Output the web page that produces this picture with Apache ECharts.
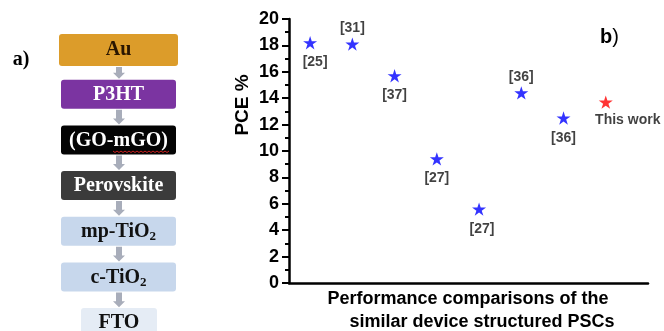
<!DOCTYPE html>
<html>
<head>
<meta charset="utf-8">
<script src="https://cdn.jsdelivr.net/npm/echarts@6/dist/echarts.min.js"></script>
<style>
  html, body { margin: 0; padding: 0; background: #fff; }
  #chart { width: 664px; height: 331px; }
</style>
</head>
<body>
<div id="chart"></div>
<script>
// data
const refs = ['[25]', '[31]', '[37]', '[27]', '[27]', '[36]', '[36]', 'This work'];
const pce = [18.2, 18.1, 15.7, 9.4, 5.6, 14.4, 12.5, 13.7];
const yTicks = [0, 2, 4, 6, 8, 10, 12, 14, 16, 18, 20];

// device stack (left panel)
const layers = ['Au', 'P3HT', '(GO-mGO)', 'Perovskite', 'mp-TiO{s|2}', 'c-TiO{s|2}', 'FTO'];
const layerColors = ['#dc9c2a', '#7b34a1', '#040404', '#3b3b3b', '#c7d7ec', '#c7d7ec', '#e5ecf5'];
const layerText = ['#2a1600', '#ffffff', '#ffffff', '#ffffff', '#111111', '#111111', '#111111'];

const starPath = 'path://M100 0 L122.45 69.1 L195.1 69.1 L136.3 111.8 L158.8 180.9 L100 138.2 L41.2 180.9 L63.7 111.8 L4.9 69.1 L77.55 69.1 Z';

const chart = echarts.init(document.getElementById('chart'));

// label placement per point
const above = [1, 5];
const labelShift = { 0: [5, 0], 4: [3, 0], 7: [22, -2] };

const points = pce.map((v, i) => {
  const isThis = i === refs.length - 1;
  return {
    value: [i + 1, v],
    name: refs[i],
    itemStyle: { color: isThis ? '#ff0000' : '#0000ff' },
    label: {
      position: above.includes(i) ? 'top' : 'bottom',
      distance: above.includes(i) ? 2 : 6,
      offset: labelShift[i] || [0, 0],
    },
  };
});

const serif = '"Liberation Serif", "Times New Roman", serif';
const sans = '"Liberation Sans", Arial, sans-serif';

const graphics = [];
const boxX = 61, boxW = 115, boxH = 29;
layers.forEach((name, i) => {
  const top = 34 + i * 45.7;
  let x = boxX, w = boxW, h = boxH, t = top;
  if (i === 0) { x = 59; w = 119; h = 32; }
  if (i === 6) { x = 81; w = 76; h = 34; t = 308; }
  graphics.push({
    type: 'rect',
    shape: { x: x, y: t, width: w, height: h, r: 3 },
    style: { fill: layerColors[i] },
  });
  graphics.push({
    type: 'text',
    x: x + w / 2,
    y: t + (i === 0 ? 16 : 15),
    style: {
      text: name,
      font: 'bold 20px ' + serif,
      fill: layerText[i],
      align: 'center',
      verticalAlign: 'middle',
      rich: {
        s: { font: 'bold 13px ' + serif, fill: layerText[i], padding: [10, 0, 0, 0] },
      },
    },
  });
  if (i < layers.length - 1) {
    const a0 = t + h + 1;
    const a1 = 34 + (i + 1) * 45.7 - 1;
    const cx = 119;
    graphics.push({
      type: 'polygon',
      shape: {
        points: [
          [cx - 3, a0], [cx + 3, a0], [cx + 3, a1 - 6], [cx + 6, a1 - 6],
          [cx, a1], [cx - 6, a1 - 6], [cx - 3, a1 - 6],
        ],
      },
      style: { fill: '#a8adba' },
    });
  }
});

// red wavy underline below "mGO"
const wave = [];
for (let k = 0; k <= 28; k++) wave.push([113 + k * 2, 151 + (k % 2 ? 1.5 : 0)]);
graphics.push({ type: 'polyline', shape: { points: wave }, style: { stroke: '#d02020', lineWidth: 1, fill: null } });

graphics.push(
  { type: 'text', x: 21, y: 60, style: { text: 'a)', font: 'bold 20px ' + serif, fill: '#000', align: 'center', verticalAlign: 'middle' } },
  { type: 'text', x: 243, y: 105, rotation: Math.PI / 2, style: { text: 'PCE %', font: 'bold 19px ' + sans, fill: '#000', align: 'center', verticalAlign: 'middle' } },
  { type: 'text', x: 468, y: 299, style: { text: 'Performance comparisons of the', font: 'bold 18px ' + sans, fill: '#000', align: 'center', verticalAlign: 'middle' } },
  { type: 'text', x: 482, y: 322, style: { text: 'similar device structured PSCs', font: 'bold 18px ' + sans, fill: '#000', align: 'center', verticalAlign: 'middle' } },
  { type: 'text', x: 600, y: 37, style: { text: '{b|b}{p|)}', align: 'left', verticalAlign: 'middle',
      rich: {
        b: { font: 'bold 20px ' + sans, fill: '#000' },
        p: { font: '20px ' + sans, fill: '#000' },
      } } }
);

const option = {
  backgroundColor: '#fff',
  animation: false,
  grid: { left: 289, right: 16, top: 19, bottom: 48 },
  xAxis: {
    type: 'value',
    min: 0.5,
    max: 9,
    axisLine: { lineStyle: { color: '#000', width: 2.5 } },
    axisTick: { show: false },
    axisLabel: { show: false },
    splitLine: { show: false },
  },
  yAxis: {
    type: 'value',
    min: yTicks[0],
    max: yTicks[yTicks.length - 1],
    interval: 2,
    axisLine: { show: true, lineStyle: { color: '#000', width: 2.5 } },
    axisTick: { show: true, length: 7, lineStyle: { color: '#000', width: 2 } },
    minorTick: { show: true, splitNumber: 2, length: 4, lineStyle: { color: '#000', width: 2 } },
    axisLabel: {
      margin: 10,
      color: '#000',
      fontSize: 18,
      fontWeight: 'bold',
      fontFamily: sans,
    },
    splitLine: { show: false },
  },
  series: [
    {
      type: 'scatter',
      symbol: starPath,
      symbolSize: 14,
      symbolKeepAspect: true,
      data: points,
      label: {
        show: true,
        formatter: (p) => p.name,
        color: '#111',
        fontSize: 14,
        fontWeight: 'bold',
        fontFamily: sans,
      },
    },
  ],
  graphic: graphics,
};

chart.setOption(option);
</script>
</body>
</html>
